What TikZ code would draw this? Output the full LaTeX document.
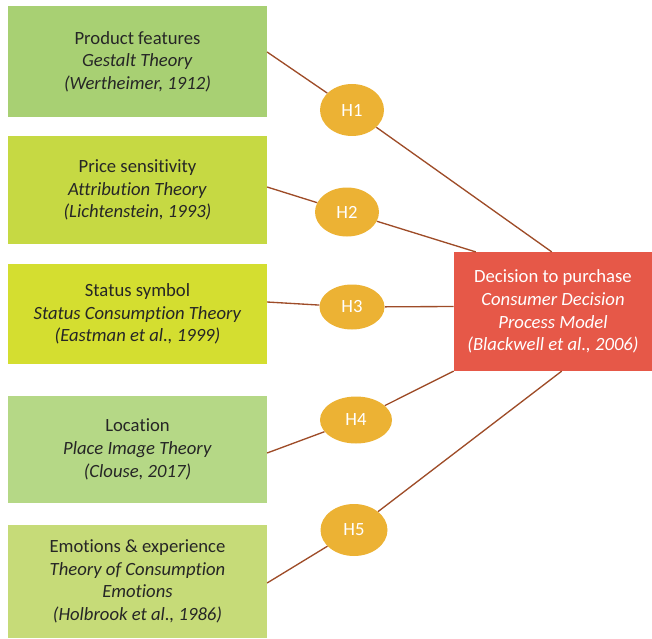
\documentclass[tikz,border=0pt]{standalone}
\usepackage{fontspec}
\setmainfont{Carlito}[Ligatures=CommonOff]
\usepackage{xcolor}
\usepackage{tikz}
\usetikzlibrary{positioning,calc,shapes.geometric}
\definecolor{HYPgreenA}{HTML}{A8D073}
\definecolor{HYPgreenB}{HTML}{C6D943}
\definecolor{HYPgreenC}{HTML}{D4DE30}
\definecolor{HYPgreenD}{HTML}{B5D886}
\definecolor{HYPgreenE}{HTML}{C6DB78}
\definecolor{HYPred}{HTML}{E65848}
\definecolor{HYPamber}{HTML}{ECB234}
\definecolor{HYPlink}{HTML}{9E4C28}
\definecolor{HYPtext}{HTML}{262626}
\tikzset{
  factorbox/.style={draw=none, align=center, minimum width=194pt, text=HYPtext, font=\fontsize{14}{17}\selectfont, inner sep=2pt},
  decisionbox/.style={draw=none, fill=HYPred, align=center, minimum width=148.5pt, minimum height=89pt, text=white, font=\fontsize{14}{17}\selectfont, inner sep=2pt},
  hypnode/.style={ellipse, draw=none, fill=HYPamber, text=white, font=\fontsize{14}{17}\selectfont, inner sep=0pt},
  link/.style={draw=HYPlink, line width=1pt}
}

\begin{document}
\begin{tikzpicture}[x=0.75pt, y=-0.75pt]
  \useasboundingbox (0,0) rectangle (652,638);
  % factors on the left
  \node[factorbox, fill=HYPgreenA, minimum height=83.25pt] (b1) at (137.5,61.5) {Product features\\\textit{Gestalt Theory}\\\textit{(Wertheimer, 1912)}};
  \node[factorbox, fill=HYPgreenB, minimum height=81pt] (b2) at (137.5,190) {Price sensitivity\\\textit{Attribution Theory}\\\textit{(Lichtenstein, 1993)}};
  \node[factorbox, fill=HYPgreenC, minimum height=75pt] (b3) at (137.5,314) {Status symbol\\\textit{Status Consumption Theory}\\\textit{(Eastman et al., 1999)}};
  \node[factorbox, fill=HYPgreenD, minimum height=80.25pt] (b4) at (137.5,449.5) {Location\\\textit{Place Image Theory}\\\textit{(Clouse, 2017)}};
  \node[factorbox, fill=HYPgreenE, minimum height=84.75pt] (b5) at (137.5,581.5) {Emotions \& experience\\\textit{Theory of Consumption}\\\textit{Emotions}\\\textit{(Holbrook et al., 1986)}};
  % outcome
  \node[decisionbox] (dec) at (553,311.5) {Decision to purchase\\\textit{Consumer Decision}\\\textit{Process Model}\\\textit{(Blackwell et al., 2006)}};
  \coordinate (t1) at ($(dec.north west)+(98,0)$);
  \coordinate (t2) at ($(dec.north west)+(22,0)$);
  \coordinate (t3) at ($(dec.west)+(0,-5)$);
  \coordinate (t4) at (dec.south west);
  \coordinate (t5) at ($(dec.south west)+(108,0)$);
  % hypotheses
  \node[hypnode, minimum width=48pt, minimum height=39pt] (h1) at (352,110) {H1};
  \node[hypnode, minimum width=48pt, minimum height=36.75pt] (h2) at (347,212) {H2};
  \node[hypnode, minimum width=48.75pt, minimum height=33.75pt] (h3) at (352,307) {H3};
  \node[hypnode, minimum width=54pt, minimum height=35.25pt] (h4) at (356,420) {H4};
  \node[hypnode, minimum width=50.25pt, minimum height=39pt] (h5) at (354,530) {H5};
  \draw[link] ($(b1.east)+(0,-9.5)$) -- (h1) -- (t1);
  \draw[link] ($(b2.east)+(0,-3)$) -- (h2) -- (t2);
  \draw[link] ($(b3.east)+(0,-12)$) -- (h3) -- (t3);
  \draw[link] ($(b4.east)+(0,3.5)$) -- (h4) -- (t4);
  \draw[link] ($(b5.east)+(0,1.5)$) -- (h5) -- (t5);
\end{tikzpicture}
\end{document}
